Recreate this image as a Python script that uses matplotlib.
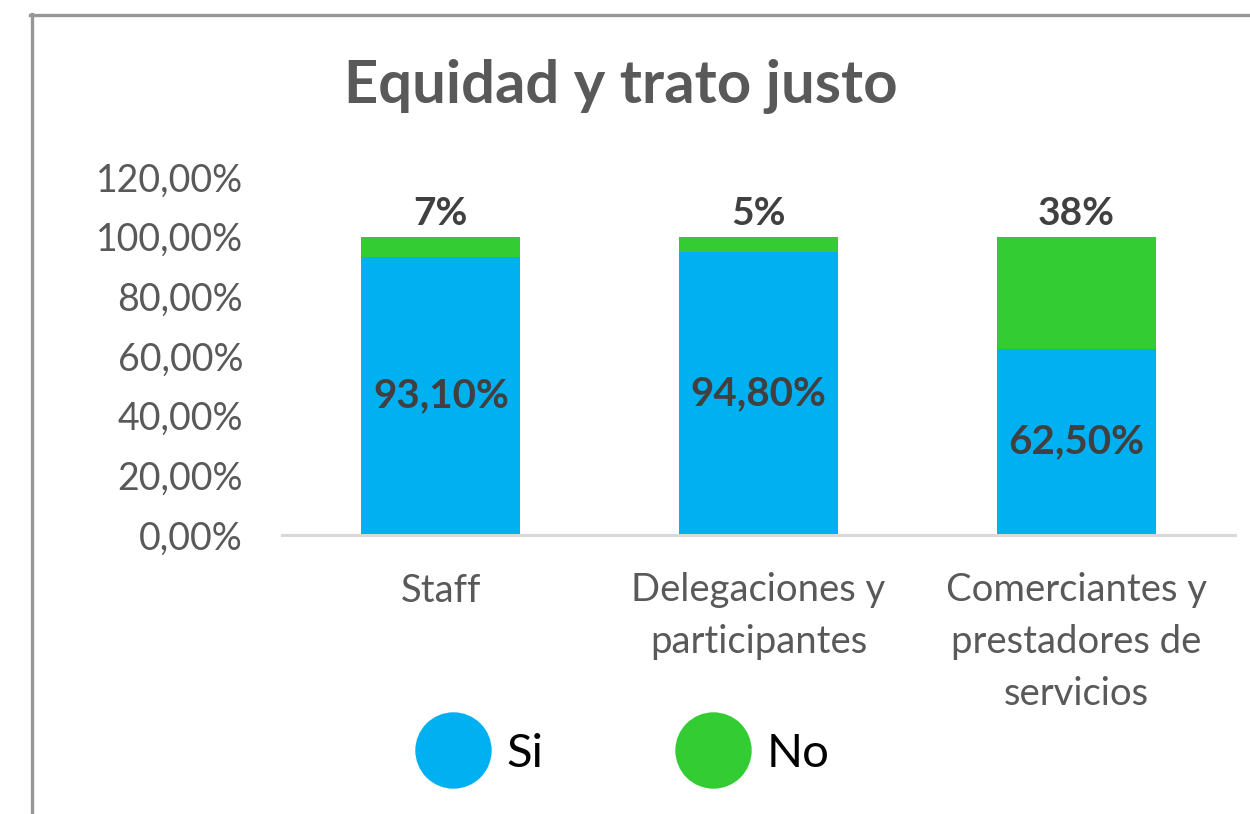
import matplotlib.pyplot as plt
from matplotlib.lines import Line2D

# -----------------------------
# DATA
# -----------------------------
categories = ["Staff", "Delegaciones y\nparticipantes", "Comerciantes y\nprestadores de\nservicios"]
si_values = [93.10, 94.80, 62.50]
no_values = [6.90, 5.20, 37.50]
si_labels = ["93,10%", "94,80%", "62,50%"]
no_labels = ["7%", "5%", "38%"]
y_ticks = [0, 20, 40, 60, 80, 100, 120]

BLUE = "#00B0F0"
GREEN = "#33CC33"
GRAY_TEXT = "#595959"
DARK_TEXT = "#404040"

plt.rcParams['font.family'] = ['Lato', 'DejaVu Sans']

# -----------------------------
# FIGURE
# -----------------------------
W, H = 1250, 814
fig = plt.figure(figsize=(W / 100, H / 100), dpi=100)

# outer frame (top and left only, the rest is cropped)
fig.add_artist(Line2D([30 / W, 1], [1 - 15 / H, 1 - 15 / H], color="#969696", lw=2.4))
fig.add_artist(Line2D([31.5 / W, 31.5 / W], [1 - 14 / H, 2 / H], color="#969696", lw=2.4))

ax = fig.add_axes([282 / W, (H - 535) / H, 953 / W, 358 / H])

x = range(len(categories))
ax.bar(x, si_values, width=0.5, color=BLUE, zorder=2)
ax.bar(x, no_values, width=0.5, bottom=si_values, color=GREEN, zorder=2)

for i in x:
    ax.text(i, si_values[i] / 2, si_labels[i], ha="center", va="center",
            fontsize=29, fontweight="bold", color=DARK_TEXT)
    ax.annotate(no_labels[i], (i, si_values[i] + no_values[i]), xytext=(0, 17),
                textcoords="offset points", ha="center", va="center",
                fontsize=28, fontweight="bold", color=DARK_TEXT)

ax.set_xlim(-0.5, 2.5)
ax.set_ylim(0, 120)
ax.set_yticks(y_ticks)
ax.set_yticklabels([f"{v},00%" for v in y_ticks])
ax.set_xticks(list(x))
ax.set_xticklabels(categories, linespacing=1.55, va="top")

for s in ["top", "right", "left"]:
    ax.spines[s].set_visible(False)
ax.spines["bottom"].set_color("#D9D9D9")
ax.spines["bottom"].set_linewidth(2.2)
ax.tick_params(axis="both", length=0, colors=GRAY_TEXT)
ax.tick_params(axis="y", labelsize=27, pad=28)
ax.tick_params(axis="x", labelsize=27.5, pad=27)

fig.text(621 / W, 1 - 86 / H, "Equidad y trato justo", ha="center", va="center",
         fontsize=43, fontweight="bold", color=GRAY_TEXT)

# legend
handles = [
    Line2D([], [], marker="o", linestyle="none", markersize=54, color=BLUE),
    Line2D([], [], marker="o", linestyle="none", markersize=54, color=GREEN),
]
fig.legend(handles, ["Si", "No"], loc="center", bbox_to_anchor=(627 / W, 1 - 754 / H),
           ncol=2, frameon=False, fontsize=34, handletextpad=0.53, columnspacing=3.0,
           handlelength=1.2)

fig.savefig("out.png", dpi=100)
